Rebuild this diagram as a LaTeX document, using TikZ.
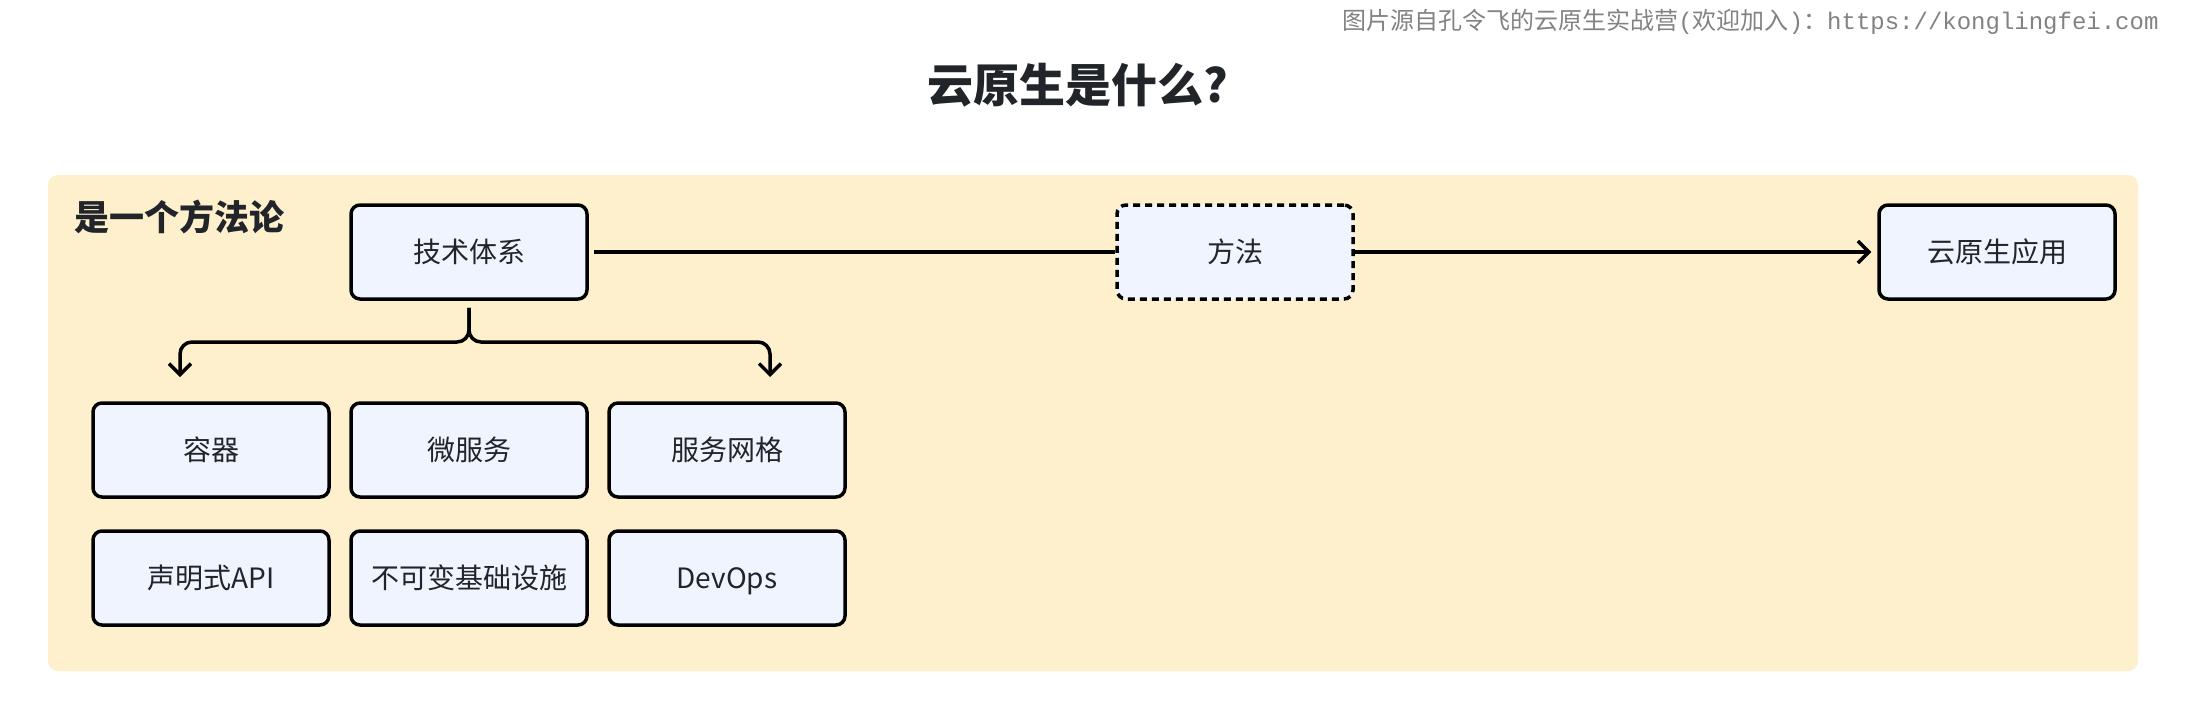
\documentclass[tikz,border=0pt]{standalone}
\usepackage{fontspec}
\setmainfont{Noto Sans CJK SC}
\newfontfamily\wmmono{Liberation Mono}
\usepackage{tikz}
\usetikzlibrary{arrows.meta,positioning}
\definecolor{panelyellow}{RGB}{254,240,205}
\definecolor{boxblue}{RGB}{239,244,254}
\definecolor{inkdark}{RGB}{33,37,41}
\definecolor{wmgray}{RGB}{130,130,130}

\begin{document}
\begin{tikzpicture}[x=1pt,y=-1pt,
	box/.style={draw=black, line width=3.5pt, fill=boxblue, rounded corners=9pt, minimum width=236pt, minimum height=94pt, inner sep=0pt, text height=24.6pt, text depth=3.4pt, text=inkdark, font=\fontsize{28}{32}\selectfont},
	link/.style={draw=black, line width=3.5pt},
	tip/.style={-{Straight Barb[length=11pt,width=22pt]}}]
		\useasboundingbox (0,0) rectangle (2186,720);
		\fill[panelyellow, rounded corners=10pt] (48,175) rectangle (2138,671);
		\node[anchor=east, text=wmgray, font=\fontsize{24}{28}\selectfont] (watermark) at (2162,22) {图片源自孔令飞的云原生实战营{\wmmono(}欢迎加入{\wmmono)}：{\wmmono https://konglingfei.com}};
		\node[text=inkdark, font=\fontsize{46}{52}\selectfont\bfseries] (title) at (1078,85) {云原生是什么?};
		\node[anchor=west, text=inkdark, font=\fontsize{35}{40}\selectfont\bfseries] (label) at (71,217) {是一个方法论};
		\node[box] (tech) at (469,252) {技术体系};
		\node[box, dash pattern=on 7pt off 5pt] (method) at (1235,252) {方法};
		\node[box] (app) at (1997,252) {云原生应用};
		\foreach \name/\txt/\x/\y in {container/容器/211/450, micro/微服务/469/450, mesh/服务网格/727/450, api/声明式API/211/578, immut/不可变基础设施/469/578, devops/DevOps/727/578}
			\node[box] (\name) at (\x,\y) {\txt};
		\draw[link] ([xshift=5pt]tech.east) -- (method.west);
		\draw[link, tip] (method.east) -- ([xshift=-6pt]app.west);
		\coordinate (lbranch) at (180,377);
		\coordinate (rbranch) at (770,377);
		\draw[link, tip, rounded corners=12pt] ([yshift=-7pt]tech.south) |- ([yshift=35pt]lbranch) -- (lbranch);
		\draw[link, tip, rounded corners=12pt] ([yshift=-7pt]tech.south) |- ([yshift=35pt]rbranch) -- (rbranch);
\end{tikzpicture}
\end{document}
